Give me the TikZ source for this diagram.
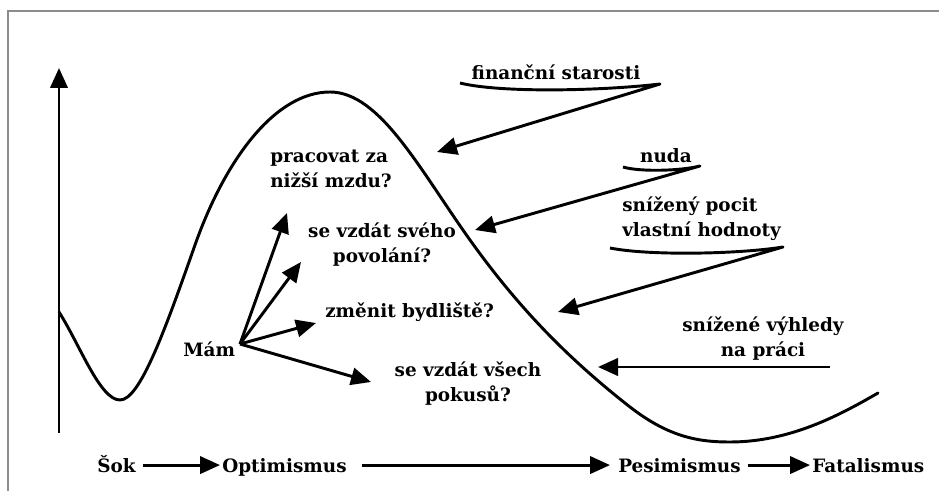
\documentclass[tikz,border=0pt]{standalone}
\usepackage{fontspec}
\setmainfont{DejaVu Serif}
\usetikzlibrary{arrows.meta}
\tikzset{
  lbl/.style={font=\fontsize{13.8}{18.75}\selectfont\bfseries, inner sep=0pt},
  arr/.style={line width=2.2pt, -{Triangle[length=15pt,width=13pt]}},
  ln/.style={line width=2.2pt, line cap=round, line join=round},
}
\begin{document}
\begin{tikzpicture}[x=0.75pt, y=-0.75pt]
\useasboundingbox (0,0) rectangle (939,491);
% frame
\draw[black!45, line width=1.2pt] (939,11) -- (8,11) -- (8,491);

% axis
\coordinate (ax0) at (59,433);
\coordinate (ax1) at (59,68);
\draw[arr] (ax0) -- (ax1);

% curve
\draw[ln] (59,312) .. controls (80,345) and (100,400) .. (120,400)
  .. controls (140,400) and (165,330) .. (195,245)
  .. controls (225,160) and (275,92) .. (330,92)
  .. controls (380,92) and (420,170) .. (470,240)
  .. controls (520,310) and (570,360) .. (630,407)
  .. controls (670,438) and (700,442) .. (730,442)
  .. controls (790,442) and (840,415) .. (878,393);

% causes
\node[lbl, anchor=base] (fin) at (556,80) {finanční starosti};
\node[lbl, anchor=base] (nuda) at (666,163) {nuda};
\node[lbl, anchor=base west, align=left] (pocit) at (622,237) {snížený pocit\\vlastní hodnoty};
\node[lbl, anchor=base, align=center] (vyhled) at (763,357) {snížené výhledy\\na práci};

\coordinate (finA) at (460,83);
\coordinate (finB) at (660,84);
\coordinate (finT) at (437,152);
\coordinate (nudaA) at (623,167);
\coordinate (nudaB) at (700,166);
\coordinate (nudaT) at (475,230);
\coordinate (pocitA) at (610,248);
\coordinate (pocitB) at (783,247);
\coordinate (pocitT) at (558,312);
\coordinate (vyhledA) at (830,367);
\coordinate (vyhledT) at (598,367);

\draw[arr, line join=round] (finA) .. controls (500,93) and (600,91) .. (finB) -- (finT);
\draw[arr, line join=round] (nudaA) .. controls (640,172) and (680,171) .. (nudaB) -- (nudaT);
\draw[arr, line join=round] (pocitA) .. controls (650,256) and (740,254) .. (pocitB) -- (pocitT);
\draw[arr] (vyhledA) -- (vyhledT);

% questions
\node[lbl, anchor=base west] (mam) at (183,357) {Mám};
\node[lbl, anchor=base west, align=left] (q1) at (270,188) {pracovat za\\nižší mzdu?};
\node[lbl, anchor=base, align=center] (q2) at (382,263) {se vzdát svého\\povolání?};
\node[lbl, anchor=base west] (q3) at (325,318) {změnit bydliště?};
\node[lbl, anchor=base, align=center] (q4) at (468,402) {se vzdát všech\\pokusů?};

\coordinate (hub) at (240,344);
\coordinate (t1) at (287,213);
\coordinate (t2) at (301,262);
\coordinate (t3) at (316,323);
\coordinate (t4) at (371,382);
\foreach \t in {t1,t2,t3,t4}
  \draw[arr] (hub) -- (\t);

% phases
\node[lbl, anchor=base west] (sok) at (97,472) {Šok};
\node[lbl, anchor=base west] (opt) at (222,472) {Optimismus};
\node[lbl, anchor=base west] (pes) at (618,472) {Pesimismus};
\node[lbl, anchor=base west] (fat) at (812,472) {Fatalismus};

\draw[arr, shorten <=5pt, shorten >=1.5pt] ([yshift=5.2pt]sok.base east) -- ([yshift=5.2pt]opt.base west);
\draw[arr, shorten <=11pt, shorten >=6pt] ([yshift=5.2pt]opt.base east) -- ([yshift=5.2pt]pes.base west);
\draw[arr, shorten <=5pt, shorten >=1.5pt] ([yshift=5.2pt]pes.base east) -- ([yshift=5.2pt]fat.base west);
\end{tikzpicture}
\end{document}
